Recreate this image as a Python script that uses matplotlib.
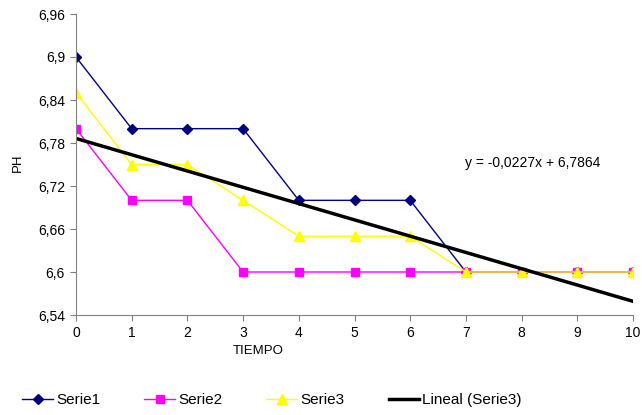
import numpy as np
import matplotlib
matplotlib.use("Agg")
import matplotlib.pyplot as plt
from matplotlib.ticker import FuncFormatter

# ---- datos ----
tiempo = [0, 1, 2, 3, 4, 5, 6, 7, 8, 9, 10]
serie1 = [6.9, 6.8, 6.8, 6.8, 6.7, 6.7, 6.7, 6.6, 6.6, 6.6, 6.6]
serie2 = [6.8, 6.7, 6.7, 6.6, 6.6, 6.6, 6.6, 6.6, 6.6, 6.6, 6.6]
serie3 = [6.85, 6.75, 6.75, 6.7, 6.65, 6.65, 6.65, 6.6, 6.6, 6.6, 6.6]
y_ticks = [6.54, 6.6, 6.66, 6.72, 6.78, 6.84, 6.9, 6.96]

plt.rcParams['font.family'] = ['Liberation Sans', 'DejaVu Sans']

fig = plt.figure(figsize=(6.42, 4.15), dpi=100)
ax = fig.add_axes([76 / 642, 1 - 315 / 415, (633 - 76) / 642, (315 - 14) / 415])

ax.plot(tiempo, serie1, color="#000080", marker="D", markersize=5.5, linewidth=1, label="Serie1")
ax.plot(tiempo, serie2, color="#ff00ff", marker="s", markersize=5.5, linewidth=1, label="Serie2")
ax.plot(tiempo, serie3, color="#ffff00", marker="^", markersize=7, linewidth=1, label="Serie3")

# tendencia lineal de Serie3
m, b = np.polyfit(tiempo, serie3, 1)
xt = np.array([tiempo[0], tiempo[-1]])
ax.plot(xt, m * xt + b, color="black", linewidth=2.5, label="Lineal (Serie3)")

ax.text(8.2, 6.7522, f"y = {m:.4f}x + {b:.4f}".replace(".", ","),
        ha="center", va="center", fontsize=10)

ax.set_xlim(0, 10)
ax.set_ylim(6.54, 6.96)
ax.set_xticks(tiempo)
ax.set_yticks(y_ticks)
ax.yaxis.set_major_formatter(FuncFormatter(lambda v, p: f"{v:g}".replace(".", ",")))
ax.tick_params(labelsize=10, length=4, color="#808080", pad=4)

for s in ("top", "right"):
    ax.spines[s].set_visible(False)
for s in ("left", "bottom"):
    ax.spines[s].set_color("#808080")

fig.text(258 / 642, 1 - 351 / 415, "TIEMPO", ha="center", va="center", fontsize=9.5,
         family=["Liberation Sans Narrow", "Liberation Sans"])
fig.text(18 / 642, 1 - 163 / 415, "PH", ha="center", va="center", fontsize=9.5, rotation=90,
         family=["Liberation Sans Narrow", "Liberation Sans"])

fig.legend(loc="center", bbox_to_anchor=(272 / 642, 1 - 400 / 415), ncol=4, frameon=False,
           fontsize=11, handlelength=2.0, handletextpad=0.2, columnspacing=2.9)

fig.savefig("out.png", dpi=100)
